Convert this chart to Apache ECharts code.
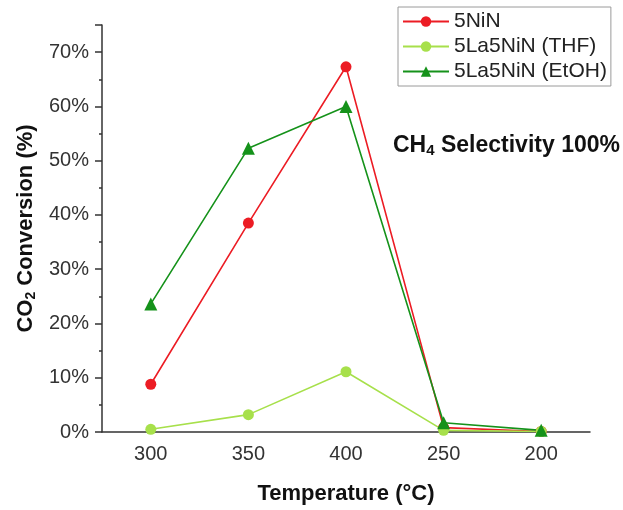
<!DOCTYPE html>
<html>
<head>
<meta charset="utf-8">
<script src="https://cdn.jsdelivr.net/npm/echarts@6/dist/echarts.min.js"></script>
<style>
  html, body { margin: 0; padding: 0; background: #fff; }
  #main { width: 623px; height: 510px; }
</style>
</head>
<body>
<div id="main"></div>
<script>
// 温度（x轴类目）
var temps = ['300', '350', '400', '250', '200'];
// CO2 转化率 (%)
var niN = [8.8, 38.5, 67.3, 0.8, 0.1];
var laNiThf = [0.5, 3.2, 11.1, 0.3, 0.1];
var laNiEtoh = [23.6, 52.3, 60.0, 1.7, 0.3];
var seriesNames = ['5NiN', '5La5NiN (THF)', '5La5NiN (EtOH)'];

var font = 'Arial, "Liberation Sans", sans-serif';

var myChart = echarts.init(document.getElementById('main'));
var option = {
    animation: false,
    textStyle: { fontFamily: font },
    grid: { left: 102, right: 33, top: 25, bottom: 75 },
    legend: {
        orient: 'vertical',
        left: 398,
        top: 7,
        padding: [4, 4, 4, 4],
        itemWidth: 46,
        itemHeight: 13,
        itemGap: 4,
        borderColor: '#9a9a9a',
        borderWidth: 1,
        data: seriesNames,
        textStyle: { fontSize: 21, color: '#222', fontFamily: font }
    },
    // 主刻度在类目中心
    xAxis: [{
        type: 'category',
        data: temps,
        boundaryGap: true,
        name: 'Temperature (°C)',
        nameLocation: 'middle',
        nameGap: 51,
        nameTextStyle: { fontSize: 22, fontWeight: 'bold', color: '#111', fontFamily: font },
        axisLine: { lineStyle: { color: '#333', width: 1.5 } },
        axisTick: { alignWithLabel: true, length: 7, lineStyle: { color: '#333', width: 1.5 } },
        axisLabel: { fontSize: 20, color: '#333', margin: 12, fontFamily: font }
    }, {
        // 次刻度在类目边界
        type: 'category',
        data: temps,
        boundaryGap: true,
        position: 'bottom',
        axisLine: { show: false },
        axisTick: { length: 4, lineStyle: { color: '#333', width: 1.5 } },
        axisLabel: { show: false }
    }],
    yAxis: {
        type: 'value',
        min: 0,
        max: 75,
        interval: 10,
        name: '{a|CO}{s|2}{a| Conversion (%)}',
        nameLocation: 'middle',
        nameGap: 64,
        nameTextStyle: {
            rich: {
                a: { fontSize: 22, fontWeight: 'bold', color: '#111', fontFamily: font },
                s: { fontSize: 14, fontWeight: 'bold', color: '#111', fontFamily: font, padding: [10, 0, 0, 0] }
            }
        },
        splitLine: { show: false },
        axisLine: { show: true, lineStyle: { color: '#333', width: 1.5 } },
        axisTick: { show: true, length: 7, lineStyle: { color: '#333', width: 1.5 } },
        minorTick: { show: true, splitNumber: 2, length: 3, lineStyle: { color: '#333', width: 1.5 } },
        minorSplitLine: { show: false },
        axisLabel: { fontSize: 20, color: '#333', margin: 13, showMaxLabel: false, formatter: '{value}%', fontFamily: font }
    },
    graphic: [{
        type: 'text',
        left: 393,
        top: 134,
        style: {
            text: '{a|CH}{s|4}{a| Selectivity 100%}',
            rich: {
                a: { fontSize: 23, fontWeight: 'bold', fill: '#111', fontFamily: font },
                s: { fontSize: 15, fontWeight: 'bold', fill: '#111', fontFamily: font, padding: [10, 0, 0, 0] }
            }
        }
    }],
    series: [{
        name: seriesNames[0],
        type: 'line',
        data: niN,
        symbol: 'circle',
        symbolSize: 11,
        color: '#ec1c24',
        lineStyle: { width: 1.6 }
    }, {
        name: seriesNames[1],
        type: 'line',
        data: laNiThf,
        symbol: 'circle',
        symbolSize: 11,
        color: '#a7e04b',
        lineStyle: { width: 1.6 }
    }, {
        name: seriesNames[2],
        type: 'line',
        data: laNiEtoh,
        symbol: 'triangle',
        symbolSize: 13,
        color: '#15921a',
        lineStyle: { width: 1.6 }
    }]
};
myChart.setOption(option);
</script>
</body>
</html>
